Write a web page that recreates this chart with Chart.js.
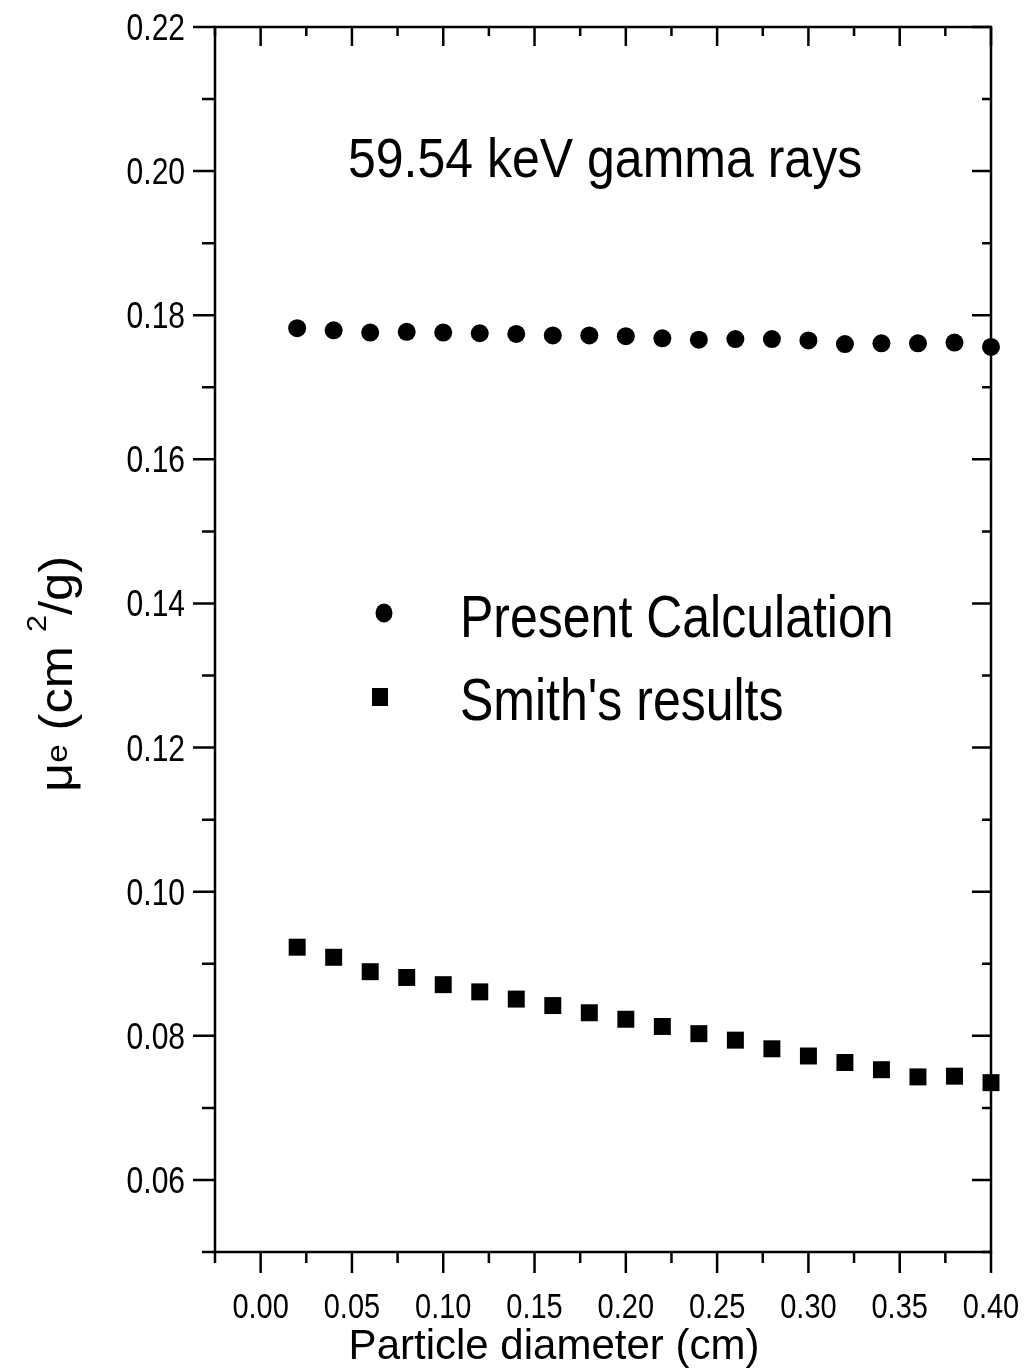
<!DOCTYPE html>
<html>
<head>
<meta charset="utf-8">
<script src="https://cdn.jsdelivr.net/npm/chart.js@4.4.1/dist/chart.umd.min.js"></script>
<style>
  html, body { margin: 0; padding: 0; background: #fff; }
  canvas { display: block; }
</style>
</head>
<body>
<canvas id="chart" width="1032" height="1370"></canvas>
<script>
// data
const diameters = [0.02, 0.04, 0.06, 0.08, 0.10, 0.12, 0.14, 0.16, 0.18, 0.20,
                   0.22, 0.24, 0.26, 0.28, 0.30, 0.32, 0.34, 0.36, 0.38, 0.40];
const presentCalculation = [0.1782, 0.1779, 0.1776, 0.1777, 0.1776, 0.1775, 0.1774, 0.1772, 0.1772, 0.1771,
                            0.1768, 0.1766, 0.1767, 0.1767, 0.1765, 0.1760, 0.1761, 0.1761, 0.1762, 0.1756];
const smithResults = [0.0923, 0.0909, 0.0889, 0.0881, 0.0871, 0.0861, 0.0851, 0.0842, 0.0832, 0.0823,
                      0.0813, 0.0803, 0.0794, 0.0782, 0.0772, 0.0763, 0.0753, 0.0743, 0.0744, 0.0735];
const seriesNames = ['Present Calculation', "Smith's results"];
const xTickLabels = ['0.00', '0.05', '0.10', '0.15', '0.20', '0.25', '0.30', '0.35', '0.40'];
const yTickLabels = ['0.06', '0.08', '0.10', '0.12', '0.14', '0.16', '0.18', '0.20', '0.22'];
const chartTitle = '59.54 keV gamma rays';
const xAxisTitle = 'Particle diameter (cm)';

// no narrow font installed, so regular Liberation Sans is stretched upright
const FONT = "'Liberation Sans', Arial, sans-serif";

function isMajor(value, labels) {
  return labels.includes(value.toFixed(2));
}

function stretchedText(ctx, text, x, y, size, sx, sy, align) {
  ctx.save();
  ctx.translate(x, y);
  ctx.scale(sx, sy);
  ctx.font = size + 'px ' + FONT;
  ctx.textAlign = align || 'left';
  ctx.textBaseline = 'alphabetic';
  ctx.fillText(text, 0, 0);
  ctx.restore();
}

// box, tick marks (out on bottom/left, in on top/right) and tick labels
const frameAndTicks = {
  id: 'frameAndTicks',
  beforeDatasetsDraw(chart) {
    const { ctx, chartArea: a, scales } = chart;
    ctx.save();
    ctx.strokeStyle = '#000';
    ctx.fillStyle = '#000';
    ctx.lineWidth = 2.5;
    ctx.strokeRect(a.left, a.top, a.right - a.left, a.bottom - a.top);
    ctx.beginPath();
    scales.x.ticks.forEach(t => {
      const px = scales.x.getPixelForValue(t.value);
      const major = isMajor(t.value, xTickLabels);
      ctx.moveTo(px, a.bottom);
      ctx.lineTo(px, a.bottom + (major ? 21 : 11));
      ctx.moveTo(px, a.top);
      ctx.lineTo(px, a.top + (major ? 19 : 9));
    });
    scales.y.ticks.forEach(t => {
      const py = scales.y.getPixelForValue(t.value);
      const major = isMajor(t.value, yTickLabels);
      ctx.moveTo(a.left, py);
      ctx.lineTo(a.left - (major ? 22 : 13), py);
      ctx.moveTo(a.right, py);
      ctx.lineTo(a.right - (major ? 19 : 9), py);
    });
    ctx.stroke();

    scales.x.ticks.forEach(t => {
      if (!isMajor(t.value, xTickLabels)) return;
      const px = scales.x.getPixelForValue(t.value);
      stretchedText(ctx, t.value.toFixed(2), px, a.bottom + 66, 29, 1, 1.2, 'center');
    });
    scales.y.ticks.forEach(t => {
      if (!isMajor(t.value, yTickLabels)) return;
      const py = scales.y.getPixelForValue(t.value);
      stretchedText(ctx, t.value.toFixed(2), a.left - 30, py + 13, 30, 1, 1.24, 'right');
    });
    ctx.restore();
  }
};

// title, legend and axis titles
const annotations = {
  id: 'annotations',
  afterDraw(chart) {
    const ctx = chart.ctx;
    ctx.save();
    ctx.fillStyle = '#000';

    stretchedText(ctx, chartTitle, 348, 177, 50, 1, 1.1);

    const legendRows = [
      { x: 384, y: 613, base: 637 },
      { x: 380, y: 697, base: 720 }
    ];
    chart.data.datasets.forEach((ds, i) => {
      const row = legendRows[i];
      ctx.beginPath();
      if (ds.pointStyle === 'rect') {
        ctx.rect(row.x - 8, row.y - 9, 16, 18);
      } else {
        ctx.ellipse(row.x, row.y, 8.5, 9.5, 0, 0, Math.PI * 2);
      }
      ctx.fill();
      stretchedText(ctx, ds.label, 460, row.base, 50, 1, 1.18);
    });

    stretchedText(ctx, xAxisTitle, 554, 1359, 42, 1, 1.02, 'center');

    // rotated y title: mu_e (cm^2/g)
    ctx.save();
    ctx.translate(72, 792);
    ctx.rotate(-Math.PI / 2);
    ctx.scale(1.1, 1);
    ctx.textBaseline = 'alphabetic';
    let pos = 0;
    const piece = (txt, size, shift) => {
      ctx.font = size + 'px ' + FONT;
      ctx.fillText(txt, pos, shift);
      pos += ctx.measureText(txt).width;
    };
    piece('\u03bc', 46, 0);
    piece('e', 30, -5);
    piece(' (cm ', 46, 0);
    piece('2', 28, -26);
    piece('/g)', 46, 0);
    ctx.restore();

    ctx.restore();
  }
};

new Chart(document.getElementById('chart'), {
  type: 'scatter',
  data: {
    datasets: [
      {
        label: seriesNames[0],
        data: diameters.map((d, i) => ({ x: d, y: presentCalculation[i] })),
        pointStyle: 'circle',
        pointRadius: 9,
        backgroundColor: '#000',
        borderWidth: 0,
        clip: false
      },
      {
        label: seriesNames[1],
        data: diameters.map((d, i) => ({ x: d, y: smithResults[i] })),
        pointStyle: 'rect',
        pointRadius: 12,
        backgroundColor: '#000',
        borderWidth: 0,
        clip: false
      }
    ]
  },
  options: {
    responsive: false,
    animation: false,
    devicePixelRatio: 1,
    layout: { padding: { top: 27, right: 41, left: 0, bottom: 0 } },
    plugins: {
      legend: { display: false },
      tooltip: { enabled: false },
      title: { display: false }
    },
    scales: {
      x: {
        type: 'linear',
        min: -0.025,
        max: 0.40,
        afterFit(scale) { scale.height = 118; },
        border: { display: false },
        grid: { display: false },
        ticks: { stepSize: 0.025, autoSkip: false, display: false }
      },
      y: {
        min: 0.05,
        max: 0.22,
        afterFit(scale) { scale.width = 215; },
        border: { display: false },
        grid: { display: false },
        ticks: { stepSize: 0.01, autoSkip: false, display: false }
      }
    }
  },
  plugins: [frameAndTicks, annotations]
});
</script>
</body>
</html>
